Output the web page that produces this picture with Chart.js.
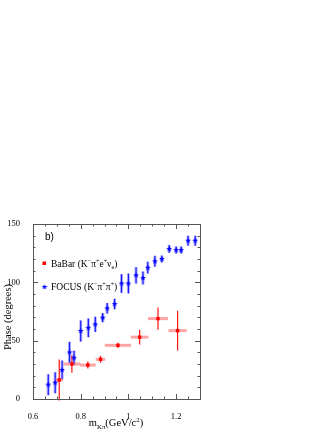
<!DOCTYPE html>
<html>
<head>
<meta charset="utf-8">
<script src="https://cdn.jsdelivr.net/npm/chart.js@4.4.0/dist/chart.umd.min.js"></script>
<style>
  body{margin:0;background:#fff;}
  canvas{display:block;}
</style>
</head>
<body>
<canvas id="chart" width="332" height="430"></canvas>
<script>
// BaBar (K- pi+ e+ nu_e)
const babarX    = [0.710, 0.763, 0.830, 0.883, 0.956, 1.047, 1.124, 1.206];
const babarY    = [16.3, 30.0, 29.1, 34.0, 46.0, 53.0, 68.9, 58.6];
const babarXErr = [0.016, 0.035, 0.033, 0.020, 0.055, 0.037, 0.042, 0.038];
const babarYErr = [17.5, 7.5, 3.0, 3.0, 2.3, 6.3, 9.5, 17.0];

// FOCUS (K- pi+ pi+)
const focusX    = [0.664, 0.693, 0.722, 0.753, 0.772, 0.800, 0.832, 0.861, 0.892, 0.911, 0.942, 0.971,
                   1.000, 1.032, 1.061, 1.081, 1.111, 1.140, 1.171, 1.200, 1.221, 1.250, 1.280];
const focusY    = [12.3, 14.0, 24.9, 40.0, 35.4, 58.3, 61.0, 64.0, 69.7, 77.7, 81.4, 99.0,
                   99.0, 106.0, 103.7, 112.6, 118.0, 120.0, 128.6, 127.7, 127.7, 135.7, 135.7];
const focusYErr = [9.0, 9.0, 8.0, 9.0, 6.0, 9.0, 8.0, 6.5, 4.0, 4.5, 4.5, 8.0,
                   8.5, 7.0, 5.5, 5.0, 4.7, 3.0, 3.3, 3.0, 3.0, 4.3, 4.3];

// axes
const xTickValues = [0.6, 0.8, 1.0, 1.2];
const xTickLabels = ["0.6", "0.8", "1", "1.2"];
const yTickValues = [0, 50, 100, 150];
const yTickLabels = ["0", "50", "100", "150"];

const SERIF = "'Liberation Serif', 'DejaVu Serif', serif";

// filled five point star, like the ROOT marker
function makeStar(size, color){
  let c=document.createElement("canvas");
  c.width=size; c.height=size;
  let g=c.getContext("2d");
  let cx=size/2, cy=size/2, ro=size/2, ri=ro*0.42;
  g.beginPath();
  for(let i=0;i<10;i++){
    let r=i%2?ri:ro;
    let a=-Math.PI/2+i*Math.PI/5;
    g.lineTo(cx+r*Math.cos(a), cy+r*Math.sin(a));
  }
  g.closePath();
  g.fillStyle=color;
  g.fill();
  return c;
}
const starImg=makeStar(6,"#0000ff");

// text with sup/sub parts: [text, 0 normal | 1 sup | -1 sub]
function richWidth(ctx,parts,size){
  let w=0;
  parts.forEach(p=>{
    ctx.font=(p[1]?size*0.65:size)+"px "+SERIF;
    w+=ctx.measureText(p[0]).width;
  });
  return w;
}
function drawRich(ctx,parts,x,y,size){
  ctx.textAlign="left";
  ctx.textBaseline="alphabetic";
  parts.forEach(p=>{
    let s=p[1]?size*0.65:size;
    let dy=p[1]===1?-size*0.38:(p[1]===-1?size*0.25:0);
    ctx.font=s+"px "+SERIF;
    ctx.fillText(p[0],x,y+dy);
    x+=ctx.measureText(p[0]).width;
  });
}

// error bars behind the points
const errorBars={
  id:"errorBars",
  beforeDatasetsDraw(chart){
    let ctx=chart.ctx, xs=chart.scales.x, ys=chart.scales.y;
    ctx.save();
    // FOCUS
    focusX.forEach((v,i)=>{
      let px=xs.getPixelForValue(v);
      let y1=ys.getPixelForValue(focusY[i]-focusYErr[i]);
      let y2=ys.getPixelForValue(focusY[i]+focusYErr[i]);
      ctx.strokeStyle="rgba(90,90,255,0.45)";
      ctx.lineWidth=3;
      ctx.beginPath(); ctx.moveTo(px,y1); ctx.lineTo(px,y2); ctx.stroke();
      ctx.strokeStyle="#1a1aff";
      ctx.lineWidth=1.2;
      ctx.beginPath(); ctx.moveTo(px,y1); ctx.lineTo(px,y2); ctx.stroke();
    });
    // BaBar
    babarX.forEach((v,i)=>{
      let px=xs.getPixelForValue(v), py=ys.getPixelForValue(babarY[i]);
      let x1=xs.getPixelForValue(v-babarXErr[i]);
      let x2=xs.getPixelForValue(v+babarXErr[i]);
      let y1=ys.getPixelForValue(babarY[i]-babarYErr[i]);
      let y2=ys.getPixelForValue(babarY[i]+babarYErr[i]);
      ctx.strokeStyle="rgba(255,90,90,0.55)";
      ctx.lineWidth=3;
      ctx.beginPath(); ctx.moveTo(x1,py); ctx.lineTo(x2,py); ctx.stroke();
      ctx.strokeStyle="#ff1010";
      ctx.lineWidth=1.2;
      ctx.beginPath(); ctx.moveTo(px,y1); ctx.lineTo(px,y2); ctx.stroke();
    });
    ctx.restore();
  }
};

// ROOT style frame, inward ticks, titles, legend
const frame={
  id:"frame",
  afterDraw(chart){
    let ctx=chart.ctx, a=chart.chartArea, xs=chart.scales.x, ys=chart.scales.y;
    ctx.save();
    ctx.strokeStyle="#555";
    ctx.lineWidth=1;
    ctx.strokeRect(a.left+0.5,a.top+0.5,a.right-a.left,a.bottom-a.top);
    ctx.beginPath();
    for(let k=0;k<=14;k++){
      let v=0.6+k*0.05;
      let px=Math.round(xs.getPixelForValue(v))+0.5;
      let len=(k%4===0)?5:2.5;
      ctx.moveTo(px,a.bottom); ctx.lineTo(px,a.bottom-len);
      ctx.moveTo(px,a.top); ctx.lineTo(px,a.top+len);
    }
    for(let v=0;v<=150;v+=10){
      let py=Math.round(ys.getPixelForValue(v))+0.5;
      let len=(v%50===0)?5:2.5;
      ctx.moveTo(a.left,py); ctx.lineTo(a.left+len,py);
      ctx.moveTo(a.right,py); ctx.lineTo(a.right-len,py);
    }
    ctx.stroke();

    ctx.fillStyle="#000";
    // x title
    let xt=[["m",0],["Kπ",-1],["(GeV/c",0],["2",1],[")",0]];
    let w=richWidth(ctx,xt,10.5);
    drawRich(ctx,xt,116-w/2,426,10.5);
    // y title
    ctx.save();
    ctx.translate(11,317);
    ctx.rotate(-Math.PI/2);
    ctx.font="10.5px "+SERIF;
    ctx.textAlign="center";
    ctx.textBaseline="alphabetic";
    ctx.fillText("Phase (degrees)",0,0);
    ctx.restore();
    // panel label
    ctx.font="10px 'Liberation Sans', Arial, sans-serif";
    ctx.textAlign="left";
    ctx.textBaseline="middle";
    ctx.fillText("b)",45,237);
    // legend
    ctx.fillStyle="#ff0000";
    ctx.fillRect(42.5,261.5,3.5,3.5);
    ctx.drawImage(starImg,41.5,284);
    ctx.fillStyle="#000";
    drawRich(ctx,[["BaBar (K",0],["−",1],["π",0],["+",1],["e",0],["+",1],["ν",0],["e",-1],[")",0]],51,266.5,9.5);
    drawRich(ctx,[["FOCUS (K",0],["−",1],["π",0],["+",1],["π",0],["+",1],[")",0]],51,290,9.5);
    ctx.restore();
  }
};

chart=new Chart(document.getElementById("chart"),{
  type:"scatter",
  data:{
    datasets:[
      {
        label:"BaBar",
        data:babarX.map((x,i)=>({x:x,y:babarY[i]})),
        pointStyle:"rect",
        pointRadius:2.4,
        borderWidth:0,
        backgroundColor:"#ff0000"
      },
      {
        label:"FOCUS",
        data:focusX.map((x,i)=>({x:x,y:focusY[i]})),
        pointStyle:starImg,
        backgroundColor:"#0000ff"
      }
    ]
  },
  options:{
    responsive:false,
    animation:false,
    events:[],
    layout:{padding:{top:224,right:132,left:0,bottom:0}},
    plugins:{legend:{display:false},tooltip:{enabled:false}},
    scales:{
      x:{
        type:"linear",min:0.6,max:1.3,
        grid:{display:false},
        border:{display:false},
        afterBuildTicks:s=>{s.ticks=xTickValues.map(v=>({value:v}));},
        afterFit:s=>{s.height=31;},
        ticks:{
          padding:5,color:"#000",maxRotation:0,autoSkip:false,
          font:{family:SERIF,size:8.5},
          callback:(v,i)=>xTickLabels[i]
        }
      },
      y:{
        type:"linear",min:0,max:150,
        grid:{display:false},
        border:{display:false},
        afterBuildTicks:s=>{s.ticks=yTickValues.map(v=>({value:v}));},
        afterFit:s=>{s.width=33;},
        ticks:{
          padding:5,color:"#000",autoSkip:false,
          font:{family:SERIF,size:8.5},
          callback:(v,i)=>yTickLabels[i]
        }
      }
    }
  },
  plugins:[errorBars,frame]
});
</script>
</body>
</html>
